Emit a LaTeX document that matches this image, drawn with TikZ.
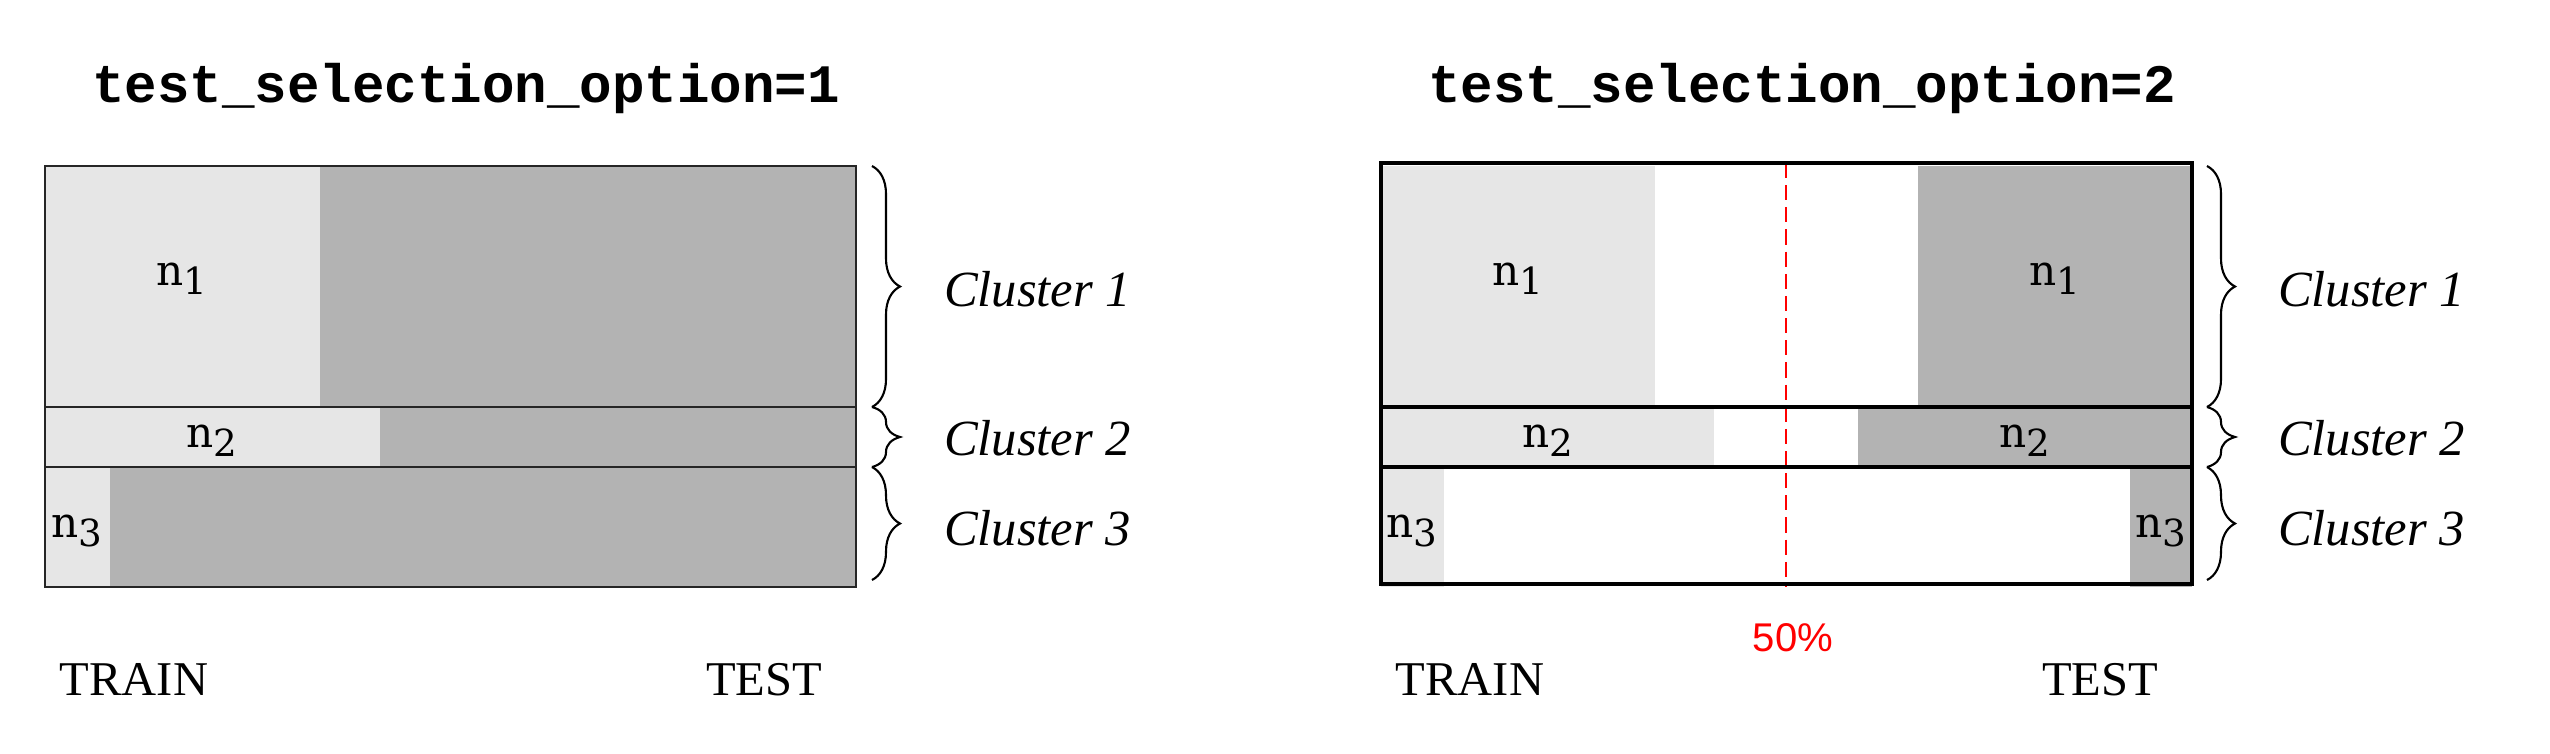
\documentclass[tikz,border=0pt]{standalone}
\usepackage{fontspec}
\setmainfont{Liberation Serif}
\newfontfamily\monofont{Liberation Mono}
\newfontfamily\nfont{DejaVu Serif}
\newfontfamily\pctfont{Liberation Sans}
\usetikzlibrary{decorations.pathreplacing}
\definecolor{trainc}{HTML}{E6E6E6}
\definecolor{testc}{HTML}{B3B3B3}
\newcommand{\nsub}[1]{{\nfont\fontsize{12pt}{14pt}\selectfont n\raisebox{-2.6pt}{\fontsize{10.6pt}{12pt}\selectfont #1}}}
\tikzset{
  txt/.style={inner sep=0pt, outer sep=0pt},
  titletext/.style={txt, anchor=base, font=\monofont\bfseries\fontsize{15.4pt}{18pt}\selectfont},
  clustertext/.style={txt, anchor=base west, font=\itshape\fontsize{14.4pt}{17pt}\selectfont},
  splittext/.style={txt, anchor=base, font=\fontsize{13.8pt}{16pt}\selectfont},
  nlabel/.style={txt, anchor=base},
  pcttext/.style={txt, anchor=base, text=red, font=\pctfont\fontsize{11.4pt}{13pt}\selectfont},
  trainfill/.style={fill=trainc},
  testfill/.style={fill=testc},
  leftborder/.style={draw=black!85, line width=0.8pt},
  rightborder/.style={draw=black, line width=1pt},
  bracestyle/.style={draw=black, line width=0.6pt, decorate, decoration={brace, amplitude=0.28cm}},
  halfline/.style={draw=red, line width=0.65pt, dash pattern=on 4.3pt off 2pt},
}
\begin{document}
\begin{tikzpicture}[x=0.01cm, y=-0.01cm]
\useasboundingbox (0,0) rectangle (2550,753);

% ---------------- left panel ----------------
\node[titletext] (t1) at (466,102) {test\_selection\_option=1};

\fill[trainfill] (45,166) rectangle (320,407);
\fill[testfill]  (320,166) rectangle (856,407);
\fill[trainfill] (45,407) rectangle (380,467);
\fill[testfill]  (380,407) rectangle (856,467);
\fill[trainfill] (45,467) rectangle (110,587);
\fill[testfill]  (110,467) rectangle (856,587);

\coordinate (L1a) at (45,407);  \coordinate (L1b) at (856,407);
\coordinate (L2a) at (45,467);  \coordinate (L2b) at (856,467);
\draw[leftborder] (45,166) rectangle (856,587);
\draw[leftborder] (L1a) -- (L1b);
\draw[leftborder] (L2a) -- (L2b);

\node[nlabel] (ln1) at (182,285) {\nsub{1}};
\node[nlabel] (ln2) at (212,447) {\nsub{2}};
\node[nlabel] (ln3) at (77,537) {\nsub{3}};

\coordinate (lb0) at (872,166);
\coordinate (lb1) at (872,407);
\coordinate (lb2) at (872,467);
\coordinate (lb3) at (872,580);
\draw[bracestyle] (lb0) -- (lb1);
\draw[bracestyle] (lb1) -- (lb2);
\draw[bracestyle] (lb2) -- (lb3);

\node[clustertext] (lc1) at (944,306) {Cluster 1};
\node[clustertext] (lc2) at (944,455) {Cluster 2};
\node[clustertext] (lc3) at (944,545) {Cluster 3};

\node[splittext] (ltrain) at (134,695) {TRAIN};
\node[splittext] (ltest) at (764,695) {TEST};

% ---------------- right panel ----------------
\node[titletext] (t2) at (1802,102) {test\_selection\_option=2};

\fill[trainfill] (1381,166) rectangle (1655,407);
\fill[testfill]  (1918,166) rectangle (2192,407);
\fill[trainfill] (1381,407) rectangle (1714,467);
\fill[testfill]  (1858,407) rectangle (2192,467);
\fill[trainfill] (1381,467) rectangle (1444,587);
\fill[testfill]  (2130,467) rectangle (2192,587);

\coordinate (h0) at (1786,163);
\coordinate (h1) at (1786,587);
\draw[halfline] (h0) -- (h1);

\coordinate (R1a) at (1381,407);  \coordinate (R1b) at (2192,407);
\coordinate (R2a) at (1381,467);  \coordinate (R2b) at (2192,467);
\draw[rightborder] (1381,163) rectangle (2192,584);
\draw[rightborder] (R1a) -- (R1b);
\draw[rightborder] (R2a) -- (R2b);

\node[nlabel] (rn1a) at (1518,285) {\nsub{1}};
\node[nlabel] (rn1b) at (2055,285) {\nsub{1}};
\node[nlabel] (rn2a) at (1548,447) {\nsub{2}};
\node[nlabel] (rn2b) at (2025,447) {\nsub{2}};
\node[nlabel] (rn3a) at (1412,537) {\nsub{3}};
\node[nlabel] (rn3b) at (2161,537) {\nsub{3}};

\coordinate (rb0) at (2207,166);
\coordinate (rb1) at (2207,407);
\coordinate (rb2) at (2207,467);
\coordinate (rb3) at (2207,580);
\draw[bracestyle] (rb0) -- (rb1);
\draw[bracestyle] (rb1) -- (rb2);
\draw[bracestyle] (rb2) -- (rb3);

\node[clustertext] (rc1) at (2278,306) {Cluster 1};
\node[clustertext] (rc2) at (2278,455) {Cluster 2};
\node[clustertext] (rc3) at (2278,545) {Cluster 3};

\node[pcttext] (pct) at (1793,651) {50\%};
\node[splittext] (rtrain) at (1470,695) {TRAIN};
\node[splittext] (rtest) at (2100,695) {TEST};
\end{tikzpicture}
\end{document}
